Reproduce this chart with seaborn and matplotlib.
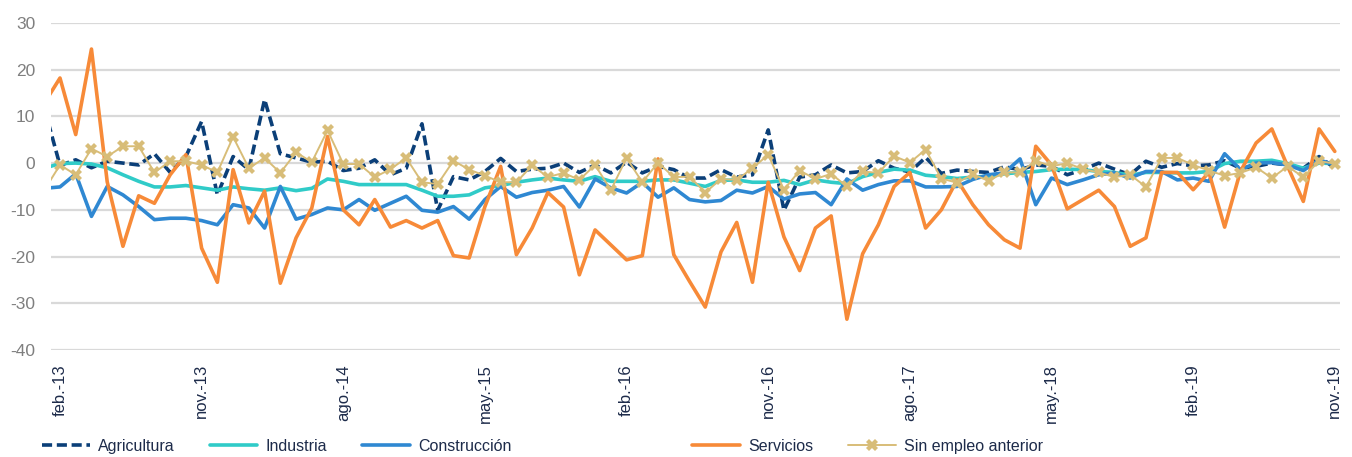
import pandas as pd
import numpy as np
import matplotlib
matplotlib.use("Agg")
import matplotlib.pyplot as plt
import seaborn as sns

# monthly series, jan-13 (clipped at the left edge) .. nov-19
months = pd.date_range("2013-01-01", "2019-11-01", freq="MS")

agricultura = [11.8, -0.5, 0.7, -1, 0.4, 0, -0.4, 2, -2, 1.4, 8.9, -6.8, 1.4, -1.4, 13.6, 2,
               1.1, 0.2, 0.4, -1.6, -1.1, 0.7, -2.5, -1.1, 8.4, -10.1, -2.9, -3.6, -1.8, 1,
               -1.8, -1.3, -1.1, 0, -2, -0.4, -2.1, 0.2, -2.1, -0.7, -1.4, -3.2, -3.2, -1.4,
               -3, -2.5, 7.1, -10.1, -3, -2.5, -0.4, -2.1, -1.8, 0.5, -1.1, -1.9, 1.2, -2.2,
               -1.5, -1.8, -2, -0.8, -1.4, -0.4, -0.7, -2.5, -1.4, 0, -1.3, -2.5, 0.4, -0.9,
               -0.1, -0.6, -0.4, 0.5, -1.1, -0.7, 0, -0.4, -1.1, 1.4, -1.1]
industria = [-1.1, -0.1, 0, -0.2, -1, -2.5, -3.9, -5.1, -5.1, -4.8, -5.3, -5.8, -5.1, -5.5,
             -5.8, -5.3, -5.9, -5.4, -3.4, -3.9, -4.6, -4.6, -4.6, -4.6, -5.8, -7.1, -7.1,
             -6.8, -5.3, -4.8, -4.1, -3.6, -3.2, -3.6, -3.9, -2.9, -3.9, -3.9, -3.9, -3.6,
             -3.6, -4.3, -5, -3.7, -3.6, -4.1, -4.1, -3.7, -4.6, -3.6, -4.1, -4.4, -2.9, -2,
             -1.3, -1.5, -2.6, -2.9, -3.3, -3, -2.8, -2.3, -2, -1.8, -1.4, -1.3, -1.4, -1.8,
             -2, -2.6, -2, -2, -2.1, -2.1, -1.8, -0.1, 0.4, 0.4, 0.6, -0.1, -1.1, 0, -0.1]
construccion = [-5.4, -5.1, -2.3, -11.4, -5, -6.8, -9.3, -12.1, -11.8, -11.8, -12.3, -13.2,
                -8.9, -9.6, -13.9, -5, -12, -11, -9.6, -10, -7.8, -10.1, -8.6, -7.1, -10.1,
                -10.5, -9.3, -12, -7.8, -5, -7.3, -6.3, -5.8, -5, -9.4, -3.4, -5.3, -6.4, -4.1,
                -7.3, -5.3, -7.8, -8.3, -8, -5.8, -6.4, -5, -7.7, -6.6, -6.3, -8.9, -3.4, -5.8,
                -4.6, -3.8, -3.8, -5.1, -5.1, -5, -3.5, -2.5, -2.1, 0.9, -8.9, -3.2, -4.6, -3.6,
                -2.5, -2.1, -3.2, -1.8, -1.8, -3.6, -3.2, -3.9, 2, -1.4, 0, 0.1, -0.4, -1.6,
                0.7, -0.4]
servicios = [12.8, 18.2, 6.1, 24.4, -4, -17.8, -7, -8.6, -2.5, 1.8, -18.2, -25.5, -1.4,
             -12.8, -6, -25.7, -16, -9.6, 5.7, -10, -13.2, -7.8, -13.7, -12.3, -13.9, -12.3,
             -19.8, -20.3, -9.3, -0.7, -19.6, -13.9, -6.3, -9.4, -23.9, -14.3, -17.5, -20.7,
             -19.8, 0.9, -19.6, -25.3, -30.8, -19, -12.7, -25.5, -4.1, -15.8, -23, -13.9,
             -11.3, -33.4, -19.4, -13.2, -5, -2, -13.9, -10, -3.6, -8.9, -13.2, -16.4, -18.2,
             3.6, -0.4, -9.8, -7.8, -5.8, -9.3, -17.8, -16, -2, -2, -5.7, -2, -13.7, -1.8,
             4.3, 7.3, -0.7, -8.2, 7.3, 2.5]
sin_empleo = [-5.8, -0.4, -2.5, 3.1, 1.4, 3.6, 3.6, -2, 0.4, 0.4, -0.4, -2, 5.6, -1.1, 1.1,
              -2.1, 2.3, 0.2, 7, -0.2, -0.2, -3, -1.3, 1.1, -4.1, -4.5, 0.5, -1.4, -2.7, -4.1,
              -4.1, -0.5, -3, -2.1, -3.6, -0.4, -5.8, 1.1, -4.1, 0.1, -3, -2.9, -6.3, -3.4,
              -3.6, -1.1, 1.8, -5.7, -1.6, -3.4, -2.3, -5, -1.8, -2.1, 1.5, 0.1, 2.9, -3.3,
              -4.2, -2.4, -3.8, -2, -2, 0.5, -0.7, 0, -1.3, -2, -3, -2.5, -5.1, 1.1, 1.1, -0.4,
              -1.6, -2.7, -2.1, -0.9, -3.2, -0.7, -3, 0.4, -0.1]

tick_labels = ["feb.-13", "nov.-13", "ago.-14", "may.-15", "feb.-16",
               "nov.-16", "ago.-17", "may.-18", "feb.-19", "nov.-19"]
tick_dates = pd.date_range("2013-02-01", "2019-11-01", freq="9MS")

df = pd.DataFrame({
    "pos": np.arange(len(months)),
    "Agricultura": agricultura,
    "Industria": industria,
    "Construcción": construccion,
    "Servicios": servicios,
    "Sin empleo anterior": sin_empleo,
})

sns.set_style("white")
plt.rcParams["font.family"] = ["Liberation Sans", "DejaVu Sans"]
plt.rcParams["axes.unicode_minus"] = False

fig = plt.figure(figsize=(13.52, 4.57), dpi=100)
ax = fig.add_axes([0.0375, 0.234, 0.9535, 0.716])

sns.lineplot(data=df, x="pos", y="Agricultura", ax=ax, color="#0b3f78", linewidth=2.6,
             label="Agricultura")
ax.lines[-1].set_dashes((2.8, 1.3))
sns.lineplot(data=df, x="pos", y="Industria", ax=ax, color="#30cbc8", linewidth=2.6,
             label="Industria")
sns.lineplot(data=df, x="pos", y="Construcción", ax=ax, color="#2f88d2", linewidth=2.6,
             label="Construcción")
sns.lineplot(data=df, x="pos", y="Servicios", ax=ax, color="#f78a38", linewidth=2.6,
             label="Servicios")
sns.lineplot(data=df, x="pos", y="Sin empleo anterior", ax=ax, color="#d8bd78",
             linewidth=1.4, marker="X", markersize=8, markeredgewidth=0,
             label="Sin empleo anterior")

ax.set_ylim(-40, 30)
ax.set_yticks(range(-40, 31, 10))
feb_pos = list(months).index(pd.Timestamp("2013-02-01"))
ax.set_xlim(feb_pos - 0.59, len(months) - 1 + 0.32)
ax.set_xticks([list(months).index(d) for d in tick_dates])
ax.set_xticklabels(tick_labels, rotation=90, color="#1d2b4a", fontsize=12)
ax.tick_params(axis="y", labelcolor="#7f7f7f", labelsize=12.5, length=0, pad=11)
ax.tick_params(axis="x", length=0, pad=10)
ax.yaxis.grid(True, color="#d9d9d9", linewidth=1.6)
ax.xaxis.grid(False)
for s in ax.spines.values():
    s.set_visible(False)
ax.set_xlabel("")
ax.set_ylabel("")

handles, labels = ax.get_legend_handles_labels()
ax.get_legend().remove()
leg_kw = dict(loc="center left", frameon=False, ncol=3, fontsize=11.5, handlelength=3.0,
              handletextpad=0.5, columnspacing=2.2, borderpad=0, borderaxespad=0,
              labelcolor="#1d2b4a")
leg1 = fig.legend(handles[:3], labels[:3], bbox_to_anchor=(0.031, 0.024), **leg_kw)
leg2 = fig.legend(handles[3:], labels[3:], bbox_to_anchor=(0.512, 0.024), **leg_kw)

fig.savefig("out.png", dpi=100)
